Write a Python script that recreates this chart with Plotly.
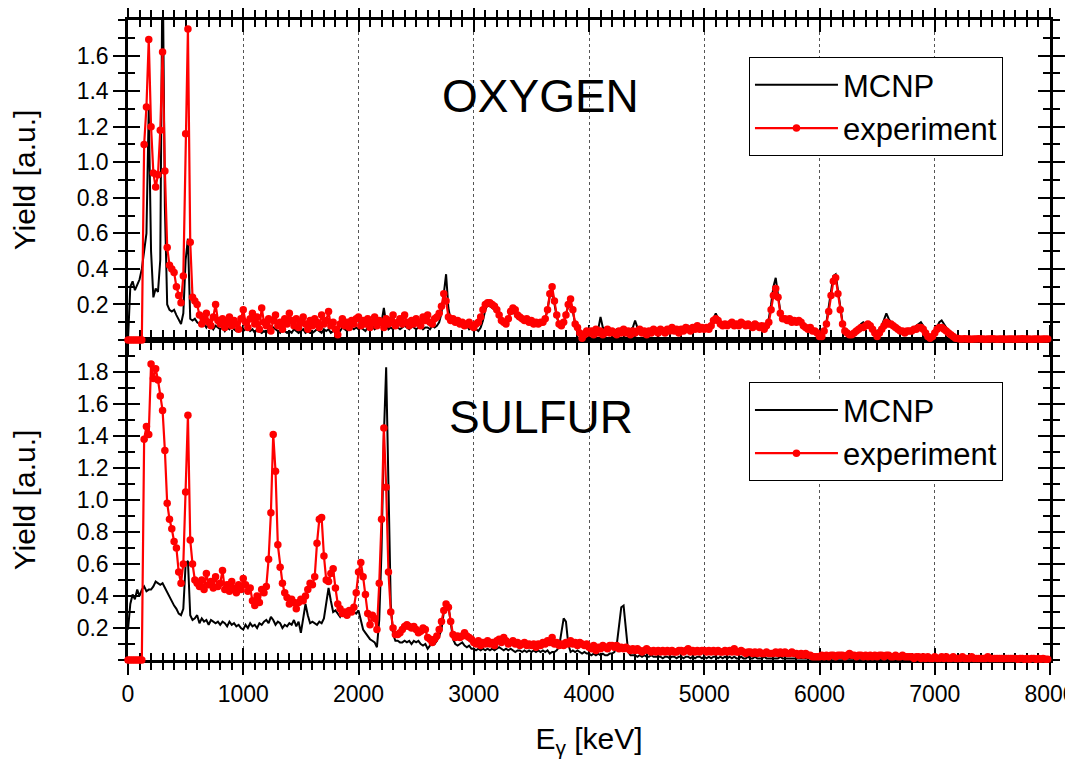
import plotly.graph_objects as go

# ---------------- data ----------------
ENERGY_KEV = list(range(0, 8000, 20))  # 400 channels, 20 keV wide

O_MCNP = [
    0.00, 0.30, 0.33, 0.28, 0.31, 0.34, 0.40, 0.50, 0.60, 1.30,
    0.50, 0.24, 0.29, 0.27, 0.45, 2.20, 0.75, 0.20, 0.17, 0.16,
    0.17, 0.14, 0.11, 0.09, 0.15, 0.45, 0.57, 0.12, 0.11, 0.12,
    0.10, 0.09, 0.08, 0.09, 0.07, 0.09, 0.08, 0.06, 0.08, 0.07,
    0.06, 0.07, 0.05, 0.07, 0.06, 0.08, 0.06, 0.05, 0.07, 0.06,
    0.05, 0.06, 0.07, 0.05, 0.06, 0.04, 0.06, 0.05, 0.04, 0.05,
    0.04, 0.06, 0.05, 0.07, 0.06, 0.05, 0.04, 0.06, 0.05, 0.04,
    0.05, 0.04, 0.06, 0.05, 0.04, 0.05, 0.06, 0.04, 0.05, 0.04,
    0.04, 0.05, 0.06, 0.05, 0.04, 0.06, 0.05, 0.06, 0.04, 0.05,
    0.05, 0.06, 0.05, 0.07, 0.06, 0.05, 0.06, 0.07, 0.06, 0.07,
    0.06, 0.07, 0.06, 0.05, 0.07, 0.06, 0.08, 0.06, 0.07, 0.08,
    0.10, 0.18, 0.09, 0.06, 0.07, 0.06, 0.08, 0.07, 0.06, 0.07,
    0.08, 0.07, 0.06, 0.08, 0.07, 0.06, 0.07, 0.08, 0.06, 0.07,
    0.07, 0.06, 0.08, 0.07, 0.08, 0.10, 0.15, 0.25, 0.37, 0.18,
    0.11, 0.10, 0.09, 0.10, 0.08, 0.09, 0.07, 0.08, 0.06, 0.07,
    0.05, 0.06, 0.05, 0.07, 0.11, 0.17, 0.20, 0.19, 0.18, 0.17,
    0.16, 0.13, 0.10, 0.09, 0.10, 0.13, 0.15, 0.16, 0.14, 0.12,
    0.12, 0.11, 0.10, 0.11, 0.10, 0.09, 0.10, 0.09, 0.10, 0.10,
    0.11, 0.12, 0.17, 0.25, 0.28, 0.21, 0.13, 0.09, 0.08, 0.10,
    0.14, 0.19, 0.21, 0.16, 0.09, 0.07, 0.05, 0.04, 0.04, 0.05,
    0.05, 0.06, 0.05, 0.07, 0.06, 0.13, 0.07, 0.06, 0.05, 0.06,
    0.06, 0.05, 0.06, 0.05, 0.06, 0.05, 0.06, 0.05, 0.06, 0.07,
    0.11, 0.07, 0.06, 0.05, 0.06, 0.05, 0.06, 0.05, 0.06, 0.05,
    0.05, 0.06, 0.05, 0.06, 0.07, 0.06, 0.07, 0.06, 0.07, 0.06,
    0.07, 0.06, 0.07, 0.08, 0.07, 0.08, 0.07, 0.08, 0.07, 0.08,
    0.07, 0.08, 0.07, 0.09, 0.12, 0.15, 0.12, 0.10, 0.09, 0.10,
    0.09, 0.10, 0.09, 0.10, 0.09, 0.10, 0.11, 0.09, 0.10, 0.09,
    0.09, 0.08, 0.09, 0.08, 0.09, 0.08, 0.07, 0.09, 0.12, 0.20,
    0.30, 0.35, 0.26, 0.16, 0.13, 0.12, 0.12, 0.11, 0.12, 0.11,
    0.10, 0.11, 0.09, 0.09, 0.08, 0.07, 0.06, 0.06, 0.05, 0.05,
    0.04, 0.04, 0.06, 0.10, 0.18, 0.27, 0.36, 0.37, 0.28, 0.18,
    0.10, 0.06, 0.05, 0.04, 0.04, 0.05, 0.06, 0.07, 0.09, 0.10,
    0.09, 0.08, 0.07, 0.06, 0.05, 0.05, 0.06, 0.08, 0.12, 0.15,
    0.12, 0.10, 0.08, 0.07, 0.06, 0.05, 0.06, 0.05, 0.06, 0.06,
    0.06, 0.07, 0.08, 0.09, 0.10, 0.08, 0.05, 0.03, 0.02, 0.03,
    0.05, 0.08, 0.10, 0.11, 0.09, 0.07, 0.05, 0.03, 0.02, 0.01,
    0.007, 0.005, 0.006, 0.004, 0.006, 0.005, 0.006, 0.004, 0.005, 0.006,
    0.005, 0.004, 0.006, 0.005, 0.004, 0.006, 0.005, 0.005, 0.004, 0.006,
    0.005, 0.006, 0.004, 0.005, 0.005, 0.006, 0.004, 0.005, 0.006, 0.004,
    0.005, 0.004, 0.006, 0.005, 0.004, 0.005, 0.006, 0.004, 0.005, 0.005,
]

O_EXP = [
    0.00, 0.00, 0.00, 0.00, 0.00, 0.00, 0.00, 1.10, 1.31, 1.69,
    1.20, 0.94, 0.86, 0.93, 1.18, 1.62, 0.95, 0.52, 0.42, 0.40,
    0.38, 0.30, 0.25, 0.21, 0.36, 1.16, 1.75, 0.55, 0.24, 0.22,
    0.20, 0.14, 0.09, 0.12, 0.15, 0.10, 0.08, 0.13, 0.20, 0.11,
    0.09, 0.12, 0.07, 0.10, 0.13, 0.08, 0.11, 0.09, 0.06, 0.12,
    0.17, 0.10, 0.07, 0.12, 0.15, 0.09, 0.13, 0.06, 0.18, 0.10,
    0.08, 0.12, 0.05, 0.11, 0.14, 0.08, 0.10, 0.06, 0.12, 0.09,
    0.15, 0.11, 0.08, 0.12, 0.07, 0.10, 0.13, 0.09, 0.06, 0.11,
    0.08, 0.12, 0.10, 0.07, 0.14, 0.09, 0.11, 0.16, 0.08, 0.10,
    0.06, 0.03, 0.09, 0.12, 0.08, 0.10, 0.07, 0.11, 0.09, 0.12,
    0.13, 0.08, 0.11, 0.09, 0.12, 0.07, 0.10, 0.13, 0.08, 0.11,
    0.10, 0.07, 0.12, 0.09, 0.11, 0.14, 0.08, 0.10, 0.12, 0.09,
    0.14, 0.10, 0.08, 0.11, 0.09, 0.12, 0.10, 0.08, 0.13, 0.11,
    0.14, 0.10, 0.09, 0.12, 0.13, 0.15, 0.19, 0.26, 0.22, 0.13,
    0.11, 0.12, 0.10, 0.11, 0.09, 0.10, 0.08, 0.09, 0.10, 0.08,
    0.07, 0.09, 0.10, 0.13, 0.17, 0.20, 0.21, 0.21, 0.20, 0.19,
    0.17, 0.14, 0.11, 0.10, 0.09, 0.12, 0.16, 0.18, 0.17, 0.14,
    0.13, 0.12, 0.11, 0.12, 0.10, 0.11, 0.09, 0.10, 0.09, 0.10,
    0.10, 0.12, 0.17, 0.26, 0.30, 0.22, 0.14, 0.09, 0.08, 0.10,
    0.14, 0.20, 0.23, 0.17, 0.09, 0.07, 0.04, 0.01, 0.03, 0.05,
    0.04, 0.05, 0.03, 0.06, 0.04, 0.05, 0.03, 0.04, 0.06, 0.04,
    0.05, 0.04, 0.03, 0.05, 0.04, 0.06, 0.04, 0.05, 0.03, 0.05,
    0.04, 0.05, 0.06, 0.04, 0.05, 0.03, 0.05, 0.04, 0.06, 0.05,
    0.04, 0.06, 0.05, 0.04, 0.06, 0.05, 0.07, 0.05, 0.06, 0.04,
    0.06, 0.05, 0.07, 0.06, 0.05, 0.07, 0.06, 0.08, 0.06, 0.07,
    0.06, 0.07, 0.06, 0.08, 0.11, 0.12, 0.11, 0.09, 0.08, 0.09,
    0.08, 0.09, 0.10, 0.08, 0.09, 0.08, 0.10, 0.09, 0.08, 0.09,
    0.08, 0.07, 0.09, 0.08, 0.07, 0.08, 0.06, 0.08, 0.10, 0.17,
    0.25, 0.29, 0.24, 0.15, 0.12, 0.12, 0.11, 0.12, 0.10, 0.11,
    0.10, 0.11, 0.10, 0.08, 0.07, 0.06, 0.07, 0.05, 0.05, 0.04,
    0.02, 0.02, 0.05, 0.09, 0.16, 0.25, 0.33, 0.35, 0.26, 0.17,
    0.09, 0.05, 0.04, 0.03, 0.03, 0.04, 0.05, 0.06, 0.07, 0.07,
    0.08, 0.09, 0.08, 0.06, 0.04, 0.02, 0.04, 0.06, 0.08, 0.10,
    0.09, 0.09, 0.08, 0.07, 0.06, 0.05, 0.05, 0.04, 0.05, 0.05,
    0.05, 0.06, 0.06, 0.07, 0.07, 0.06, 0.04, 0.02, 0.01, 0.02,
    0.04, 0.06, 0.07, 0.07, 0.06, 0.05, 0.04, 0.03, 0.02, 0.01,
    0.008, 0.006, 0.005, 0.007, 0.005, 0.006, 0.004, 0.006, 0.005, 0.007,
    0.005, 0.006, 0.004, 0.006, 0.005, 0.007, 0.005, 0.004, 0.006, 0.005,
    0.006, 0.004, 0.005, 0.006, 0.005, 0.004, 0.006, 0.005, 0.007, 0.005,
    0.005, 0.006, 0.004, 0.005, 0.006, 0.005, 0.004, 0.006, 0.005, 0.005,
]

S_MCNP = [
    0.19, 0.35, 0.41, 0.38, 0.44, 0.40, 0.44, 0.46, 0.43, 0.44,
    0.44, 0.46, 0.49, 0.48, 0.47, 0.48, 0.45, 0.42, 0.40, 0.36,
    0.34, 0.32, 0.29, 0.28, 0.32, 0.60, 0.62, 0.28, 0.25, 0.26,
    0.28, 0.23, 0.26, 0.24, 0.25, 0.22, 0.25, 0.24, 0.23, 0.24,
    0.22, 0.24, 0.23, 0.21, 0.24, 0.22, 0.23, 0.21, 0.22, 0.20,
    0.19, 0.22, 0.20, 0.23, 0.21, 0.22, 0.20, 0.23, 0.22, 0.24,
    0.25, 0.23, 0.27, 0.25, 0.22, 0.24, 0.23, 0.20, 0.22, 0.21,
    0.23, 0.22, 0.25, 0.21, 0.24, 0.17, 0.26, 0.35, 0.28, 0.23,
    0.24, 0.23, 0.22, 0.24, 0.23, 0.26, 0.36, 0.45, 0.37, 0.30,
    0.31, 0.29, 0.27, 0.30, 0.31, 0.30, 0.29, 0.31, 0.30, 0.29,
    0.31, 0.25, 0.19, 0.17, 0.15, 0.13, 0.12, 0.11, 0.08, 0.25,
    0.69, 1.40, 1.83, 0.95, 0.35, 0.16, 0.12, 0.12, 0.11, 0.11,
    0.12, 0.11, 0.12, 0.10, 0.12, 0.11, 0.12, 0.10, 0.09, 0.10,
    0.07, 0.09, 0.11, 0.10, 0.12, 0.15, 0.19, 0.30, 0.36, 0.34,
    0.22, 0.13, 0.10, 0.09, 0.10, 0.11, 0.09, 0.08, 0.09, 0.07,
    0.07, 0.06, 0.07, 0.06, 0.07, 0.06, 0.07, 0.06, 0.07, 0.06,
    0.07, 0.08, 0.07, 0.06, 0.07, 0.06, 0.07, 0.06, 0.05, 0.06,
    0.06, 0.05, 0.06, 0.05, 0.06, 0.05, 0.06, 0.05, 0.06, 0.05,
    0.06, 0.05, 0.06, 0.04, 0.05, 0.05, 0.06, 0.08, 0.17, 0.26,
    0.24, 0.10, 0.05, 0.06, 0.05, 0.06, 0.05, 0.04, 0.05, 0.04,
    0.04, 0.03, 0.04, 0.03, 0.04, 0.03, 0.04, 0.03, 0.03, 0.04,
    0.04, 0.05, 0.09, 0.20, 0.33, 0.34, 0.17, 0.05, 0.03, 0.03,
    0.03, 0.02, 0.03, 0.02, 0.03, 0.02, 0.02, 0.03, 0.02, 0.02,
    0.02, 0.02, 0.01, 0.02, 0.02, 0.01, 0.02, 0.02, 0.01, 0.02,
    0.02, 0.01, 0.02, 0.02, 0.01, 0.02, 0.01, 0.02, 0.02, 0.01,
    0.02, 0.01, 0.02, 0.01, 0.02, 0.02, 0.01, 0.02, 0.01, 0.02,
    0.01, 0.02, 0.01, 0.02, 0.01, 0.01, 0.02, 0.01, 0.01, 0.02,
    0.01, 0.01, 0.02, 0.01, 0.01, 0.01, 0.02, 0.01, 0.01, 0.01,
    0.01, 0.01, 0.01, 0.02, 0.01, 0.01, 0.01, 0.01, 0.01, 0.01,
    0.01, 0.01, 0.01, 0.01, 0.01, 0.01, 0.01, 0.01, 0.01, 0.01,
    0.01, 0.008, 0.01, 0.007, 0.01, 0.008, 0.009, 0.007, 0.01, 0.008,
    0.008, 0.007, 0.009, 0.008, 0.007, 0.009, 0.008, 0.007, 0.008, 0.009,
    0.007, 0.008, 0.007, 0.009, 0.008, 0.007, 0.008, 0.007, 0.008, 0.007,
    0.007, 0.006, 0.008, 0.007, 0.006, 0.007, 0.008, 0.006, 0.007, 0.006,
    0.006, 0.007, 0.006, 0.007, 0.006, 0.005, 0.007, 0.006, 0.005, 0.006,
    0.006, 0.005, 0.006, 0.007, 0.005, 0.006, 0.005, 0.006, 0.005, 0.006,
    0.005, 0.006, 0.005, 0.005, 0.006, 0.005, 0.006, 0.005, 0.005, 0.006,
    0.005, 0.005, 0.006, 0.005, 0.005, 0.006, 0.005, 0.005, 0.005, 0.006,
    0.005, 0.005, 0.005, 0.006, 0.005, 0.005, 0.005, 0.005, 0.006, 0.005,
    0.005, 0.005, 0.005, 0.005, 0.006, 0.005, 0.005, 0.005, 0.005, 0.005,
]

S_EXP = [
    0.00, 0.00, 0.00, 0.00, 0.00, 0.00, 0.00, 1.38, 1.46, 1.41,
    1.85, 1.76, 1.82, 1.75, 1.65, 1.56, 1.31, 0.98, 0.88, 0.82,
    0.74, 0.70, 0.55, 0.48, 0.60, 1.05, 1.53, 0.75, 0.60, 0.50,
    0.48, 0.46, 0.50, 0.44, 0.54, 0.47, 0.49, 0.45, 0.52, 0.46,
    0.48, 0.56, 0.44, 0.47, 0.43, 0.49, 0.45, 0.42, 0.47, 0.44,
    0.51, 0.47, 0.43, 0.45, 0.37, 0.34, 0.40, 0.36, 0.44, 0.42,
    0.46, 0.63, 0.92, 1.41, 1.18, 0.72, 0.58, 0.48, 0.42, 0.39,
    0.35, 0.38, 0.36, 0.32, 0.36, 0.38, 0.37, 0.40, 0.44, 0.48,
    0.47, 0.52, 0.73, 0.88, 0.89, 0.65, 0.50, 0.49, 0.54, 0.57,
    0.45, 0.35, 0.32, 0.29, 0.30, 0.28, 0.31, 0.30, 0.33, 0.42,
    0.55, 0.61, 0.52, 0.41, 0.29, 0.22, 0.28, 0.26, 0.19, 0.48,
    0.88, 1.45, 1.08, 0.55, 0.30, 0.20, 0.16, 0.16, 0.17, 0.19,
    0.21, 0.22, 0.21, 0.20, 0.21, 0.19, 0.17, 0.18, 0.20, 0.19,
    0.14, 0.13, 0.11, 0.13, 0.15, 0.19, 0.24, 0.31, 0.35, 0.33,
    0.24, 0.16, 0.14, 0.15, 0.14, 0.15, 0.17, 0.15, 0.14, 0.13,
    0.11, 0.10, 0.12, 0.09, 0.11, 0.10, 0.12, 0.10, 0.11, 0.09,
    0.12, 0.13, 0.11, 0.14, 0.12, 0.10, 0.11, 0.12, 0.10, 0.11,
    0.09, 0.10, 0.11, 0.09, 0.10, 0.09, 0.10, 0.08, 0.10, 0.09,
    0.11, 0.10, 0.12, 0.11, 0.14, 0.10, 0.11, 0.09, 0.10, 0.09,
    0.11, 0.10, 0.12, 0.10, 0.11, 0.09, 0.11, 0.10, 0.09, 0.10,
    0.08, 0.07, 0.09, 0.06, 0.08, 0.07, 0.09, 0.08, 0.07, 0.09,
    0.09, 0.08, 0.09, 0.07, 0.08, 0.07, 0.08, 0.07, 0.06, 0.07,
    0.06, 0.07, 0.06, 0.05, 0.06, 0.07, 0.06, 0.05, 0.06, 0.05,
    0.06, 0.05, 0.06, 0.05, 0.06, 0.05, 0.06, 0.05, 0.05, 0.06,
    0.06, 0.05, 0.06, 0.07, 0.05, 0.06, 0.05, 0.06, 0.05, 0.06,
    0.06, 0.05, 0.06, 0.05, 0.06, 0.05, 0.06, 0.05, 0.05, 0.06,
    0.05, 0.06, 0.05, 0.07, 0.05, 0.05, 0.06, 0.05, 0.04, 0.05,
    0.05, 0.04, 0.05, 0.04, 0.05, 0.04, 0.04, 0.05, 0.04, 0.04,
    0.04, 0.05, 0.04, 0.05, 0.04, 0.05, 0.04, 0.04, 0.05, 0.04,
    0.04, 0.03, 0.04, 0.03, 0.04, 0.03, 0.03, 0.02, 0.02, 0.02,
    0.02, 0.03, 0.02, 0.03, 0.02, 0.03, 0.03, 0.02, 0.03, 0.03,
    0.03, 0.02, 0.03, 0.04, 0.03, 0.03, 0.02, 0.03, 0.03, 0.02,
    0.03, 0.02, 0.03, 0.02, 0.03, 0.02, 0.03, 0.03, 0.02, 0.03,
    0.03, 0.02, 0.02, 0.03, 0.02, 0.02, 0.03, 0.02, 0.02, 0.02,
    0.02, 0.01, 0.02, 0.02, 0.01, 0.02, 0.01, 0.02, 0.01, 0.01,
    0.02, 0.01, 0.01, 0.02, 0.01, 0.02, 0.01, 0.01, 0.02, 0.01,
    0.01, 0.01, 0.02, 0.01, 0.01, 0.01, 0.02, 0.01, 0.01, 0.01,
    0.01, 0.01, 0.01, 0.02, 0.01, 0.01, 0.01, 0.01, 0.01, 0.01,
    0.01, 0.01, 0.01, 0.01, 0.01, 0.01, 0.005, 0.01, 0.01, 0.005,
    0.01, 0.005, 0.01, 0.01, 0.005, 0.01, 0.005, 0.01, 0.005, 0.005,
]

SERIES_NAMES = ["MCNP", "experiment"]
PANEL_LABELS = ["OXYGEN", "SULFUR"]
X_RANGE = [0, 8000]
X_TICKS = [0, 1000, 2000, 3000, 4000, 5000, 6000, 7000, 8000]
Y_RANGE_TOP = [0, 1.8]
Y_RANGE_BOTTOM = [0, 2.0]
Y_TICKS_TOP = [0.2, 0.4, 0.6, 0.8, 1.0, 1.2, 1.4, 1.6]
Y_TICKS_BOTTOM = [0.2, 0.4, 0.6, 0.8, 1.0, 1.2, 1.4, 1.6, 1.8]

# ---------------- styling ----------------
FONT = "Liberation Sans, Arial, Helvetica, sans-serif"
BLACK = "#000000"
RED = "#ff0000"

fig = go.Figure()

# top panel (oxygen) -> x2 / y2 ; bottom panel (sulfur) -> x / y
panels = [
    ("x2", "y2", O_MCNP, O_EXP, "legend"),
    ("x", "y", S_MCNP, S_EXP, "legend2"),
]
for xa, ya, mc, ex, lg in panels:
    fig.add_trace(go.Scatter(
        x=ENERGY_KEV, y=mc, xaxis=xa, yaxis=ya, mode="lines",
        name=SERIES_NAMES[0], legend=lg,
        line=dict(color=BLACK, width=2),
    ))
    fig.add_trace(go.Scatter(
        x=ENERGY_KEV, y=ex, xaxis=xa, yaxis=ya, mode="lines+markers",
        name=SERIES_NAMES[1], legend=lg, cliponaxis=False,
        line=dict(color=RED, width=2.2),
        marker=dict(color=RED, size=7.5, line=dict(width=0)),
    ))

# invisible helpers so the inside-tick overlay axes get drawn
for xa, ya in [("x", "y3"), ("x3", "y"), ("x2", "y4"), ("x4", "y2")]:
    fig.add_trace(go.Scatter(x=[None], y=[None], xaxis=xa, yaxis=ya,
                             mode="markers", showlegend=False, hoverinfo="skip"))

MAJOR_LEN = 12
MINOR_LEN = 7
base = dict(showline=True, linecolor=BLACK, linewidth=2.5, zeroline=False,
            tickcolor=BLACK, tickwidth=2, ticklen=MAJOR_LEN, mirror="ticks",
            layer="below traces", automargin=False)

xgrid = dict(showgrid=True, gridcolor="#555555", gridwidth=1, griddash="dot")

xaxis_common = dict(range=X_RANGE, tickmode="array", tickvals=X_TICKS,
                    ticklabeloverflow="allow",
                    tickfont=dict(family=FONT, size=23, color=BLACK))


def minor(side, step):
    return dict(ticks=side, ticklen=MINOR_LEN, tickwidth=2, tickcolor=BLACK,
                dtick=step, tick0=0, showgrid=False)


fig.update_layout(
    xaxis=dict(**base, **xaxis_common, **xgrid, anchor="y", domain=[0, 1],
               ticks="outside", showticklabels=True, minor=minor("outside", 100),
               title=dict(text="E<sub>γ</sub> [keV]", standoff=22,
                          font=dict(family=FONT, size=30, color=BLACK))),
    xaxis2=dict(**base, **xaxis_common, **xgrid, anchor="y2", matches="x",
                ticks="outside", showticklabels=False, minor=minor("outside", 100)),
    xaxis3=dict(**base, **xaxis_common, overlaying="x", anchor="y",
                ticks="inside", showticklabels=False, showgrid=False,
                minor=minor("inside", 100)),
    xaxis4=dict(**base, **xaxis_common, overlaying="x2", anchor="y2",
                ticks="inside", showticklabels=False, showgrid=False,
                minor=minor("inside", 100)),
    yaxis=dict(**base, range=Y_RANGE_BOTTOM, domain=[0, 0.5], anchor="x",
               tickmode="array", tickvals=Y_TICKS_BOTTOM, tickformat=".1f",
               ticks="outside", showgrid=False,
               tickfont=dict(family=FONT, size=23, color=BLACK),
               minor=minor("outside", 0.1),
               title=dict(text="Yield [a.u.]", standoff=34,
                          font=dict(family=FONT, size=30, color=BLACK))),
    yaxis2=dict(**base, range=Y_RANGE_TOP, domain=[0.5, 1], anchor="x2",
                tickmode="array", tickvals=Y_TICKS_TOP, tickformat=".1f",
                ticks="outside", showgrid=False,
                tickfont=dict(family=FONT, size=23, color=BLACK),
                minor=minor("outside", 0.1),
                title=dict(text="Yield [a.u.]", standoff=34,
                           font=dict(family=FONT, size=30, color=BLACK))),
    yaxis3=dict(**base, range=Y_RANGE_BOTTOM, overlaying="y", anchor="x",
                tickmode="array", tickvals=Y_TICKS_BOTTOM, ticks="inside",
                showticklabels=False, showgrid=False, minor=minor("inside", 0.1)),
    yaxis4=dict(**base, range=Y_RANGE_TOP, overlaying="y2", anchor="x2",
                tickmode="array", tickvals=Y_TICKS_TOP, ticks="inside",
                showticklabels=False, showgrid=False, minor=minor("inside", 0.1)),
)

legend_style = dict(xanchor="left", yanchor="top", bgcolor="white",
                    bordercolor=BLACK, borderwidth=1, itemwidth=83,
                    font=dict(family=FONT, size=31, color=BLACK),
                    tracegroupgap=0)

# the page adds an 8 px body margin, so the figure is 8 px smaller than the window
# plot area: x 128..1050, y 20..660 in window pixels
fig.update_layout(
    width=1065, height=752, autosize=False,
    margin=dict(l=120, r=23, t=12, b=100, pad=0, autoexpand=False),
    paper_bgcolor="white", plot_bgcolor="white",
    font=dict(family=FONT, color=BLACK),
    showlegend=True,
    legend=dict(**legend_style, x=0.6735, y=0.942),
    legend2=dict(**legend_style, x=0.6735, y=0.434),
    annotations=[
        dict(text=PANEL_LABELS[0], xref="x2", yref="y2", x=3575, y=1.37,
             showarrow=False, xanchor="center", yanchor="middle",
             font=dict(family=FONT, size=46, color=BLACK)),
        dict(text=PANEL_LABELS[1], xref="x", yref="y", x=3580, y=1.52,
             showarrow=False, xanchor="center", yanchor="middle",
             font=dict(family=FONT, size=46, color=BLACK)),
    ],
)

fig.write_html("out.html")
